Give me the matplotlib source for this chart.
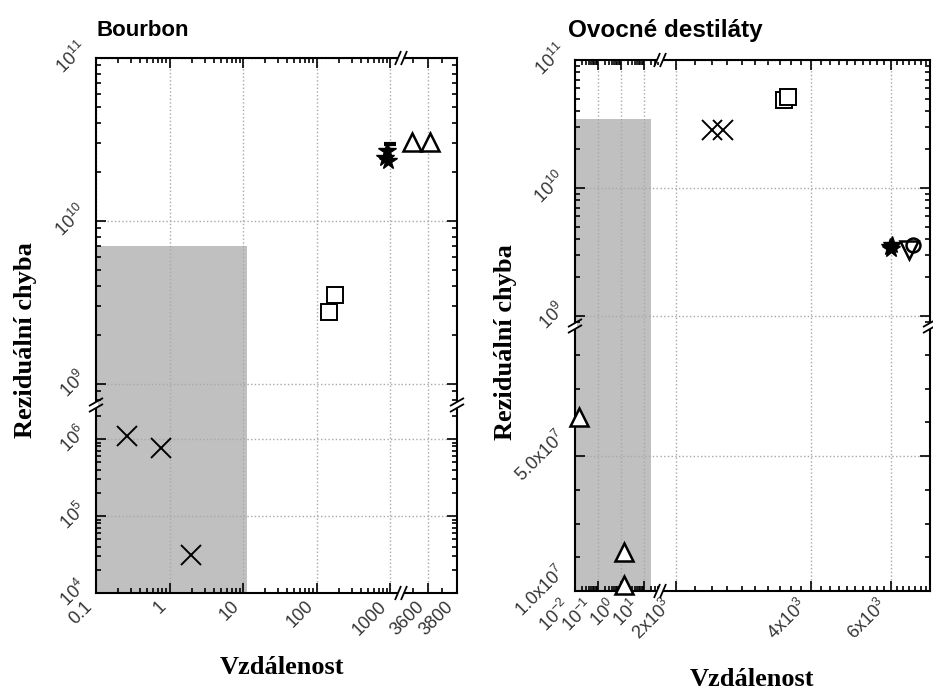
import numpy as np
import matplotlib
matplotlib.use('Agg')
import matplotlib.pyplot as plt
from matplotlib import ticker
from matplotlib.lines import Line2D

plt.rcParams['font.family'] = ['Liberation Sans', 'DejaVu Sans']
plt.rcParams['mathtext.fontset'] = 'custom'
plt.rcParams['mathtext.rm'] = 'Liberation Sans'
plt.rcParams['mathtext.it'] = 'Liberation Sans:italic'
plt.rcParams['mathtext.bf'] = 'Liberation Sans:bold'

W, H = 933, 694

# --- Bourbon ---
b_cross_x = [0.26, 0.77, 1.95]
b_cross_y = [1.1e6, 7.6e5, 3.1e4]
b_sq_x = [148, 178]
b_sq_y = [2.75e9, 3.5e9]
b_star_x = [850, 900, 930]
b_star_y = [2.45e10, 2.7e10, 2.35e10]
b_bar_x = [1000]
b_bar_y = [2.95e10]
b_tri_x = [3497, 3614]
b_tri_y = [3.05e10, 3.05e10]
b_shade = (11.3, 7e9)

# --- Ovocne destilaty ---
o_tri_x = [0.015, 1.35, 1.35]
o_tri_y = [6.16e7, 2.16e7, 1.18e7]
o_cross_x = [2405, 2542]
o_cross_y = [2.84e10, 2.84e10]
o_sq_x = [3475, 3548]
o_sq_y = [4.9e10, 5.1e10]
o_star_x = [5970, 6050, 6010]
o_star_y = [3.46e9, 3.6e9, 3.35e9]
o_vtri_x = [6600]
o_vtri_y = [3.3e9]
o_circ_x = [6730]
o_circ_y = [3.6e9]
o_shade = (20, 3.46e10)

fig = plt.figure(figsize=(W / 100, H / 100), dpi=100)


def add_px(x0, y0, x1, y1):
    return fig.add_axes([x0 / W, 1 - y1 / H, (x1 - x0) / W, (y1 - y0) / H])


def stroke(xa, ya, xb, yb, color='k', lw=1.3):
    fig.add_artist(Line2D([xa / W, xb / W], [1 - ya / H, 1 - yb / H],
                          transform=fig.transFigure, color=color, lw=lw,
                          solid_capstyle='butt', zorder=10))


def vbreak(x, y):
    # "//" across a vertical spine
    stroke(x, y - 3, x, y + 3, color='white', lw=3)
    for yy in (y - 3, y + 3):
        stroke(x - 7, yy + 4, x + 7, yy - 4)


def hbreak(y, x):
    stroke(x - 3, y, x + 3, y, color='white', lw=3)
    for xx in (x - 3, x + 3):
        stroke(xx - 3, y + 7, xx + 3, y - 7)


def setup(ax, xscale, yscale, xlim, ylim, sides):
    ax.set_xscale(xscale)
    ax.set_yscale(yscale)
    ax.set_xlim(*xlim)
    ax.set_ylim(*ylim)
    for s in ['left', 'right', 'top', 'bottom']:
        ax.spines[s].set_visible(s in sides)
        ax.spines[s].set_linewidth(1.5)
    ax.tick_params(which='both', direction='in', width=1.2,
                   left='left' in sides, right='right' in sides,
                   top='top' in sides, bottom='bottom' in sides,
                   labelleft='left' in sides, labelbottom='bottom' in sides,
                   labeltop=False, labelright=False,
                   labelsize=13, labelcolor='#333333')
    ax.tick_params(which='major', length=7)
    ax.tick_params(which='minor', length=3.5)
    ax.grid(True, which='major', ls=':', color='#a8a8a8', lw=1.0)
    ax.patch.set_alpha(0)


def log_minor(axis):
    axis.set_minor_locator(ticker.LogLocator(10, subs=np.arange(2, 10), numticks=30))
    axis.set_minor_formatter(ticker.NullFormatter())


def xticks(ax, vals, labels, minor=None):
    ax.set_xticks(vals, labels, rotation=45, ha='right')
    if minor is not None:
        ax.set_xticks(minor, minor=True)
    ax.xaxis.set_minor_formatter(ticker.NullFormatter())


def yticks(ax, vals, labels, minor=None):
    ax.set_yticks(vals, labels, rotation=45, va='center')
    if minor is not None:
        ax.set_yticks(minor, minor=True)
    ax.yaxis.set_minor_formatter(ticker.NullFormatter())


def pts(ax, x, y, **kw):
    # only points inside this segment, drawn unclipped so edge markers stay whole
    x0, x1 = ax.get_xlim()
    y0, y1 = ax.get_ylim()
    x = np.asarray(x, float)
    y = np.asarray(y, float)
    m = (x >= x0) & (x <= x1) & (y >= y0) & (y <= y1)
    if m.any():
        ax.plot(x[m], y[m], ls='none', clip_on=False, zorder=4, **kw)


def shade(ax, xr, yr):
    x0, _ = ax.get_xlim()
    y0, _ = ax.get_ylim()
    ax.fill_between([x0, xr], y0, yr, color='#c0c0c0', lw=0, zorder=0.5)


mk_cross = dict(marker='x', ms=14, mec='k', mew=1.4)
mk_sq = dict(marker='s', ms=11, mfc='white', mec='k', mew=1.4)
mk_tri = dict(marker='^', ms=13, mfc='white', mec='k', mew=1.8)
mk_star = dict(marker='*', ms=13, mfc='k', mec='k', mew=1.0)

# ================= Bourbon =================
bx_log = (0.1, 10 ** (-1 + 305 / 73.5))
bx_lin = (3420, 3800)
by_hi = (10 ** (11 - 347 / 163), 1e11)
by_lo = (1e4, 10 ** (4 + 188 / 77))

b_tl = add_px(96, 58, 401, 405)
b_tr = add_px(401, 58, 457, 405)
b_bl = add_px(96, 405, 401, 593)
b_br = add_px(401, 405, 457, 593)

setup(b_tl, 'log', 'log', bx_log, by_hi, {'left', 'top'})
setup(b_tr, 'linear', 'log', bx_lin, by_hi, {'right', 'top'})
setup(b_bl, 'log', 'log', bx_log, by_lo, {'left', 'bottom'})
setup(b_br, 'linear', 'log', bx_lin, by_lo, {'right', 'bottom'})

for ax in (b_tl, b_bl):
    xticks(ax, [0.1, 1, 10, 100, 1000], ['0.1', '1', '10', '100', '1000'])
    log_minor(ax.xaxis)
for ax in (b_tr, b_br):
    xticks(ax, [3600, 3800], ['3600', '3800'], minor=[3500, 3700])
for ax in (b_tl, b_tr):
    yticks(ax, [1e9, 1e10, 1e11], [r'$10^{9}$', r'$10^{10}$', r'$10^{11}$'])
    log_minor(ax.yaxis)
for ax in (b_bl, b_br):
    yticks(ax, [1e4, 1e5, 1e6], [r'$10^{4}$', r'$10^{5}$', r'$10^{6}$'])
    log_minor(ax.yaxis)

shade(b_tl, *b_shade)
shade(b_bl, b_shade[0], by_lo[1])

for ax in (b_tl, b_tr, b_bl, b_br):
    pts(ax, b_cross_x, b_cross_y, **mk_cross)
    pts(ax, b_sq_x, b_sq_y, **mk_sq)
    pts(ax, b_star_x, b_star_y, **mk_star)
    pts(ax, b_bar_x, b_bar_y, marker='_', ms=9, mec='k', mew=3)
    pts(ax, b_tri_x, b_tri_y, **mk_tri)

vbreak(96, 405)
vbreak(457, 405)
hbreak(58, 401)
hbreak(593, 401)

# ================= Ovocne destilaty =================
ox_log = (0.01, 10 ** (-2 + 85 / 23))
ox_hi = (10 ** (np.log10(2000) - 16 / 450), 10 ** (np.log10(2000) + 254 / 450))
oy_hi = (10 ** (11 - 266 / 128), 1e11)
oy_lo = (1e7, 1e7 + 265 / 33.75 * 1e7)

o_tl = add_px(575, 60, 660, 326)
o_tr = add_px(660, 60, 930, 326)
o_bl = add_px(575, 326, 660, 591)
o_br = add_px(660, 326, 930, 591)

setup(o_tl, 'log', 'log', ox_log, oy_hi, {'left', 'top'})
setup(o_tr, 'log', 'log', ox_hi, oy_hi, {'right', 'top'})
setup(o_bl, 'log', 'linear', ox_log, oy_lo, {'left', 'bottom'})
setup(o_br, 'log', 'linear', ox_hi, oy_lo, {'right', 'bottom'})

for ax in (o_tl, o_bl):
    xticks(ax, [1e-2, 1e-1, 1, 10],
           [r'$10^{-2}$', r'$10^{-1}$', r'$10^{0}$', r'$10^{1}$'])
    log_minor(ax.xaxis)
hi_minor = [v for v in range(2000, 7400, 200) if v % 2000]
for ax in (o_tr, o_br):
    xticks(ax, [2000, 4000, 6000],
           [r'$2\mathregular{x}10^{3}$', r'$4\mathregular{x}10^{3}$', r'$6\mathregular{x}10^{3}$'],
           minor=hi_minor)
for ax in (o_tl, o_tr):
    yticks(ax, [1e9, 1e10, 1e11], [r'$10^{9}$', r'$10^{10}$', r'$10^{11}$'])
    log_minor(ax.yaxis)
for ax in (o_bl, o_br):
    yticks(ax, [1e7, 5e7], [r'$1.0\mathregular{x}10^{7}$', r'$5.0\mathregular{x}10^{7}$'],
           minor=np.arange(2e7, 9e7, 1e7))

shade(o_tl, *o_shade)
shade(o_bl, o_shade[0], oy_lo[1])

for ax in (o_tl, o_tr, o_bl, o_br):
    pts(ax, o_tri_x, o_tri_y, **mk_tri)
    pts(ax, o_cross_x, o_cross_y, **mk_cross)
    pts(ax, o_sq_x, o_sq_y, **mk_sq)
    pts(ax, o_star_x, o_star_y, **mk_star)
    pts(ax, o_vtri_x, o_vtri_y, marker='v', ms=13, mfc='white', mec='k', mew=1.8)
    pts(ax, o_circ_x, o_circ_y, marker='o', ms=10, mfc='none', mec='k', mew=1.8)

vbreak(575, 326)
vbreak(930, 326)
hbreak(60, 660)
hbreak(591, 660)

# titles and axis labels
fig.text(96 / W, 1 - 31 / H, 'Bourbon', fontsize=16, fontweight='bold', va='center')
fig.text(568 / W, 1 - 31 / H, 'Ovocné destiláty', fontsize=17.5, fontweight='bold', va='center')
serif = ['Liberation Serif', 'DejaVu Serif']
fig.text(26 / W, 1 - 340 / H, 'Reziduální chyba', family=serif, fontsize=19,
         fontweight='bold', rotation=90, ha='center', va='center')
fig.text(506 / W, 1 - 342 / H, 'Reziduální chyba', family=serif, fontsize=19,
         fontweight='bold', rotation=90, ha='center', va='center')
fig.text(282 / W, 1 - 667 / H, 'Vzdálenost', family=serif, fontsize=19,
         fontweight='bold', ha='center', va='center')
fig.text(752 / W, 1 - 680 / H, 'Vzdálenost', family=serif, fontsize=19,
         fontweight='bold', ha='center', va='center')

fig.savefig('out.png', dpi=100)
